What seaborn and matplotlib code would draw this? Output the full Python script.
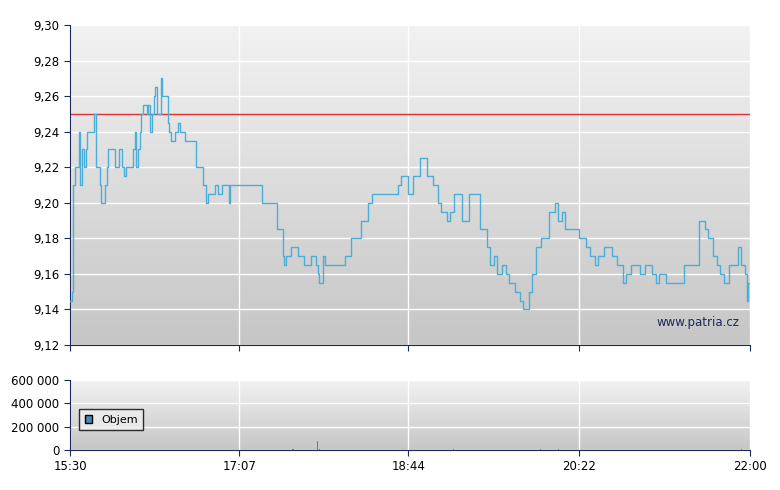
import numpy as np
import pandas as pd
import matplotlib
matplotlib.use("Agg")
import matplotlib.pyplot as plt
import seaborn as sns
from matplotlib.ticker import FuncFormatter

# minutes after 15:30
minutes = [0, 1, 2, 3, 5, 6, 7, 8, 9, 10, 13, 14, 15, 17, 18, 20, 21, 22, 24, 26, 28, 30, 31, 32, 34,
           36, 37, 38, 39, 40, 41, 42, 44, 45, 46, 47, 48, 49, 50, 52, 53, 55, 56, 57, 58, 60, 62, 63,
           66, 69, 72, 73, 76, 78, 79, 83, 85, 87, 91, 92, 97, 110, 119, 122, 123, 124, 127, 131, 134,
           138, 141, 142, 143, 145, 146, 149, 158, 161, 167, 171, 173, 177, 185, 188, 190, 194, 197,
           201, 205, 208, 211, 213, 216, 218, 220, 225, 229, 235, 239, 241, 243, 245, 248, 250, 252,
           255, 258, 260, 263, 265, 267, 270, 273, 275, 278, 280, 282, 284, 289, 292, 296, 298, 301,
           303, 306, 309, 311, 314, 317, 319, 322, 327, 330, 334, 336, 338, 342, 344, 352, 361, 364,
           366, 369, 371, 373, 375, 378, 380, 383, 385, 387, 388, 389, 390]
prices = [9.145, 9.15, 9.21, 9.22, 9.24, 9.21, 9.23, 9.22, 9.23, 9.24, 9.24, 9.25, 9.22, 9.21, 9.20,
          9.21, 9.22, 9.23, 9.23, 9.22, 9.23, 9.22, 9.215, 9.22, 9.22, 9.23, 9.24, 9.22, 9.23, 9.24,
          9.25, 9.255, 9.25, 9.255, 9.24, 9.25, 9.26, 9.265, 9.25, 9.27, 9.26, 9.26, 9.245, 9.24,
          9.235, 9.24, 9.245, 9.24, 9.235, 9.235, 9.22, 9.22, 9.21, 9.20, 9.205, 9.21, 9.205, 9.21,
          9.20, 9.21, 9.21, 9.20, 9.185, 9.17, 9.165, 9.17, 9.175, 9.17, 9.165, 9.17, 9.165, 9.16,
          9.155, 9.17, 9.165, 9.165, 9.17, 9.18, 9.19, 9.20, 9.205, 9.205, 9.205, 9.21, 9.215, 9.205,
          9.215, 9.225, 9.215, 9.21, 9.20, 9.195, 9.19, 9.195, 9.205, 9.19, 9.205, 9.185, 9.175,
          9.165, 9.17, 9.16, 9.165, 9.16, 9.155, 9.15, 9.145, 9.14, 9.15, 9.16, 9.175, 9.18, 9.18,
          9.195, 9.20, 9.19, 9.195, 9.185, 9.185, 9.18, 9.175, 9.17, 9.165, 9.17, 9.175, 9.175, 9.17,
          9.165, 9.155, 9.16, 9.165, 9.16, 9.165, 9.16, 9.155, 9.16, 9.155, 9.155, 9.165, 9.19,
          9.185, 9.18, 9.17, 9.165, 9.16, 9.155, 9.165, 9.165, 9.175, 9.165, 9.16, 9.145, 9.155, 9.155]
ref_price = 9.25

vol_minutes = [20, 60, 100, 128, 142, 143, 160, 220, 270, 280, 300, 350, 385]
volumes = [3000, 2000, 4000, 6000, 80000, 5000, 3000, 5000, 8000, 6000, 3000, 4000, 5000]

tick_minutes = [0, 97, 194, 292, 390]
tick_labels = ["15:30", "17:07", "18:44", "20:22", "22:00"]

navy = "#1a2a5a"
df = pd.DataFrame({"t": minutes, "p": prices})
vdf = pd.DataFrame({"t": vol_minutes, "v": volumes})

fig = plt.figure(figsize=(7.8, 4.9), dpi=100)
ax = fig.add_axes([70 / 780, 145 / 490, 680 / 780, 320 / 490])
axv = fig.add_axes([70 / 780, 40 / 490, 680 / 780, 70 / 490])

grad = np.linspace(0, 1, 256).reshape(-1, 1)
for a in (ax, axv):
    a.imshow(grad, aspect="auto", extent=(0, 1, 0, 1), transform=a.transAxes,
             cmap=matplotlib.colors.LinearSegmentedColormap.from_list("g", ["#f2f2f2", "#c6c6c6"]),
             zorder=0)
    a.set_xlim(0, 390)
    a.set_xticks(tick_minutes)
    a.grid(True, color="white", lw=1, zorder=1)
    a.set_axisbelow(True)
    for s in ("top", "right"):
        a.spines[s].set_visible(False)
    for s in ("left", "bottom"):
        a.spines[s].set_color(navy)
    a.tick_params(colors=navy, labelcolor="black", labelsize=8.5, direction="out", length=4)

sns.lineplot(data=df, x="t", y="p", ax=ax, drawstyle="steps-post", color="#4aaed8",
             lw=1, estimator=None, sort=False, zorder=3)
ax.axhline(ref_price, color="#e03030", lw=1, zorder=2)
ax.set_ylim(9.12, 9.30)
ax.set_yticks(np.arange(9.12, 9.301, 0.02))
ax.yaxis.set_major_formatter(FuncFormatter(lambda v, _: f"{v:.2f}".replace(".", ",")))
ax.set_xticklabels([])
ax.set_xlabel("")
ax.set_ylabel("")
ax.text(0.985, 0.06, "www.patria.cz", transform=ax.transAxes, ha="right", fontsize=8.5, color=navy)

axv.bar(vdf["t"], vdf["v"], width=0.8, color="#4a8ab8", zorder=3, label="Objem")
axv.set_ylim(0, 600000)
axv.set_yticks([0, 200000, 400000, 600000])
axv.yaxis.set_major_formatter(FuncFormatter(lambda v, _: f"{int(v):,}".replace(",", " ")))
axv.set_xticklabels(tick_labels)
leg = axv.legend(loc="lower left", bbox_to_anchor=(0.005, 0.2), fontsize=8, frameon=True,
                 fancybox=False, handlelength=0.7, handleheight=0.7, borderpad=0.5)
leg.get_frame().set_edgecolor("black")
leg.get_frame().set_facecolor("#eeeeee")
leg.legend_handles[0].set_edgecolor("black")

fig.savefig("out.png", dpi=100)
